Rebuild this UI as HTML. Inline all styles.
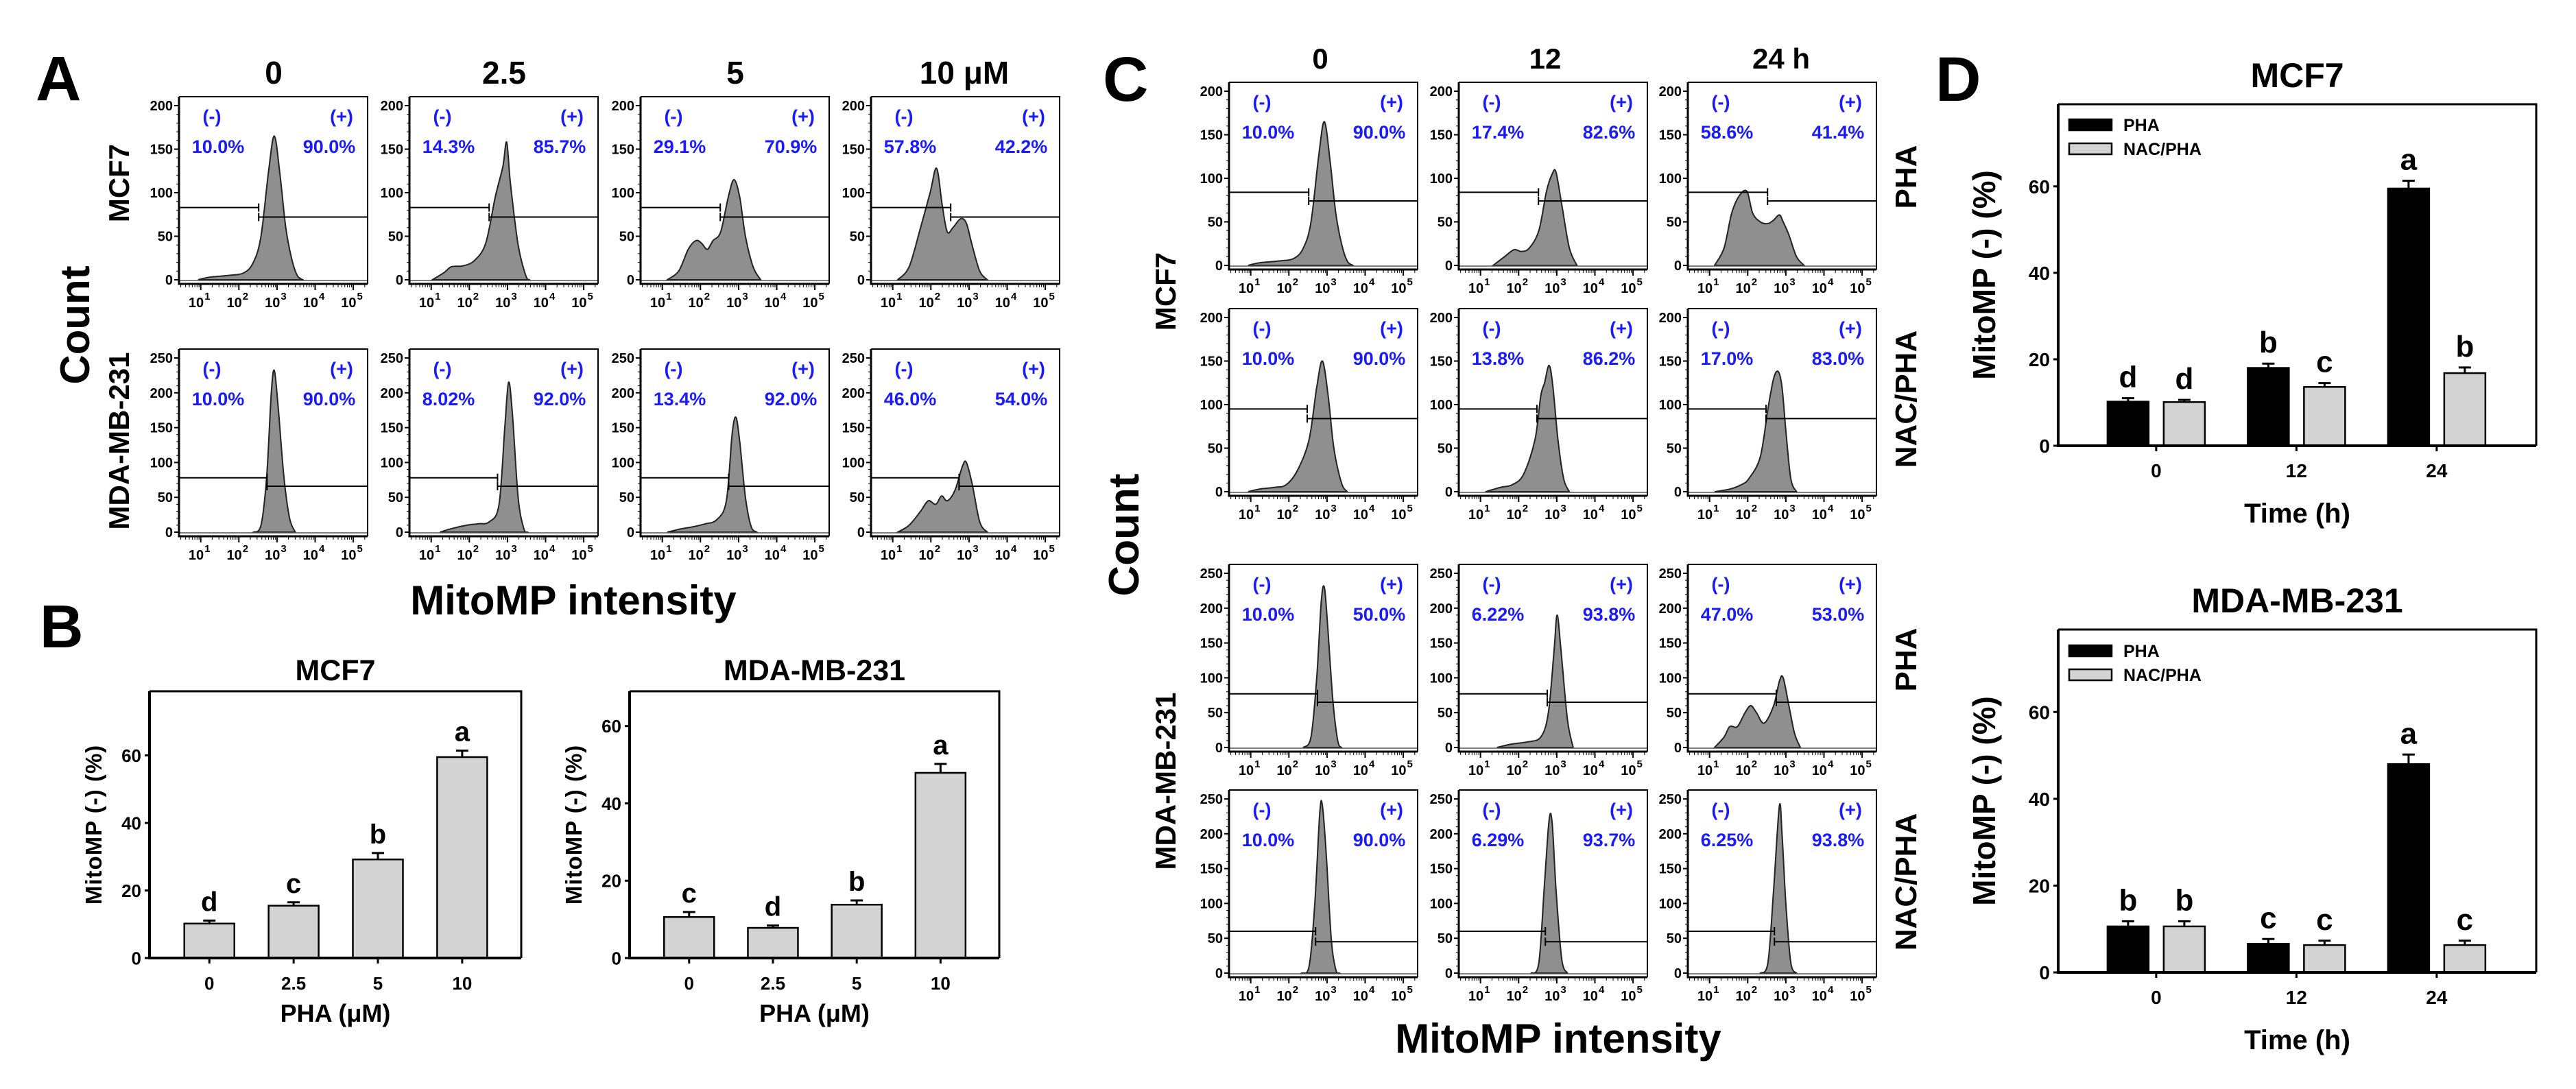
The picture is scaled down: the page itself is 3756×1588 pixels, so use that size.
<!DOCTYPE html>
<html><head><meta charset="utf-8">
<style>
html,body{margin:0;padding:0;background:#fff;}
svg{display:block;}
text{font-family:"Liberation Sans",sans-serif;font-weight:bold;}
</style></head>
<body>
<svg id="fig" width="3756" height="1588" viewBox="0 0 3756 1588" xmlns="http://www.w3.org/2000/svg">
<rect x="0" y="0" width="3756" height="1588" fill="#fff"/>
<text x="52" y="146" font-size="92">A</text>
<text x="58" y="944" font-size="88">B</text>
<text x="1608" y="147" font-size="92">C</text>
<text x="2822" y="147" font-size="92">D</text>
<g font-size="46" text-anchor="middle">
<text x="399" y="122">0</text>
<text x="735" y="122">2.5</text>
<text x="1072" y="122">5</text>
<text x="1406" y="122">10 μM</text>
</g>
<text transform="translate(130,474) rotate(-90)" font-size="60" text-anchor="middle">Count</text>
<text transform="translate(188,267) rotate(-90)" font-size="42" text-anchor="middle">MCF7</text>
<text transform="translate(188,643) rotate(-90)" font-size="42" text-anchor="middle">MDA-MB-231</text>
<text x="836" y="896" font-size="60" text-anchor="middle">MitoMP intensity</text>
<g font-size="42" text-anchor="middle">
<text x="1925" y="100">0</text>
<text x="2253" y="100">12</text>
<text x="2597" y="100">24 h</text>
</g>
<text transform="translate(1660,780) rotate(-90)" font-size="62" text-anchor="middle">Count</text>
<text transform="translate(1714,425) rotate(-90)" font-size="42" text-anchor="middle">MCF7</text>
<text transform="translate(1714,1139) rotate(-90)" font-size="42" text-anchor="middle">MDA-MB-231</text>
<text x="2272" y="1535" font-size="60" text-anchor="middle">MitoMP intensity</text>
<g font-size="44" text-anchor="middle">
<text transform="translate(2794,258) rotate(-90)">PHA</text>
<text transform="translate(2794,582) rotate(-90)">NAC/PHA</text>
<text transform="translate(2794,962) rotate(-90)">PHA</text>
<text transform="translate(2794,1286) rotate(-90)">NAC/PHA</text>
</g>
</svg>
<script>
// ---------- flow cytometry histogram data: [log10 intensity, count] ----------
const histA_mcf7_0   = [[1.0,0],[1.3,3],[1.8,5],[2.2,8],[2.45,20],[2.65,50],[2.85,125],[3.0,165],[3.15,120],[3.3,60],[3.45,25],[3.6,5],[3.75,0]];
const histA_mcf7_25  = [[1.1,0],[1.4,8],[1.6,15],[1.9,16],[2.2,22],[2.5,42],[2.75,95],[2.95,130],[3.05,158],[3.15,110],[3.35,40],[3.55,5],[3.65,0]];
const histA_mcf7_5   = [[1.2,0],[1.5,10],[1.75,35],[1.95,45],[2.1,42],[2.25,35],[2.4,45],[2.6,55],[2.8,95],[2.95,115],[3.1,95],[3.25,50],[3.45,15],[3.65,0]];
const histA_mcf7_10  = [[1.2,0],[1.5,15],[1.8,60],[2.05,100],[2.22,128],[2.37,85],[2.5,55],[2.65,60],[2.85,70],[3.0,65],[3.15,40],[3.35,10],[3.55,0]];
const histA_mda_0    = [[2.45,0],[2.65,10],[2.8,80],[2.92,200],[3.0,232],[3.1,180],[3.25,80],[3.4,20],[3.55,0]];
const histA_mda_25   = [[1.3,0],[1.6,5],[2.0,10],[2.3,12],[2.6,15],[2.85,40],[3.0,150],[3.1,215],[3.2,170],[3.35,50],[3.5,5],[3.6,0]];
const histA_mda_5    = [[1.2,0],[1.5,4],[1.9,8],[2.2,12],[2.5,18],[2.75,45],[2.9,140],[3.0,165],[3.1,130],[3.25,50],[3.4,8],[3.55,0]];
const histA_mda_10   = [[1.2,0],[1.5,10],[1.8,30],[2.0,45],[2.2,40],[2.35,52],[2.5,45],[2.7,60],[2.9,95],[3.0,100],[3.15,70],[3.35,15],[3.55,0]];
const histC_mcf7_pha_0  = [[1.0,0],[1.3,3],[1.8,5],[2.2,8],[2.45,20],[2.65,50],[2.85,125],[3.0,165],[3.15,120],[3.3,60],[3.45,25],[3.6,5],[3.75,0]];
const histC_mcf7_pha_12 = [[1.4,0],[1.7,10],[1.95,18],[2.15,16],[2.35,20],[2.6,40],[2.8,85],[2.95,105],[3.05,107],[3.2,70],[3.4,20],[3.6,0]];
const histC_mcf7_pha_24 = [[1.2,0],[1.45,20],[1.65,60],[1.85,80],[2.05,85],[2.2,60],[2.4,50],[2.6,48],[2.75,52],[2.9,58],[3.0,50],[3.15,35],[3.35,10],[3.55,0]];
const histC_mcf7_nac_0  = [[1.0,0],[1.3,3],[1.7,5],[2.0,8],[2.3,25],[2.6,60],[2.8,120],[2.95,150],[3.1,110],[3.25,50],[3.45,10],[3.6,0]];
const histC_mcf7_nac_12 = [[1.2,0],[1.6,5],[1.9,8],[2.2,20],[2.5,60],[2.65,110],[2.75,125],[2.87,145],[2.97,120],[3.1,60],[3.25,15],[3.4,0]];
const histC_mcf7_nac_24 = [[1.2,0],[1.6,3],[1.9,8],[2.1,15],[2.4,40],[2.6,95],[2.75,130],[2.87,138],[2.97,120],[3.07,70],[3.2,15],[3.35,0]];
const histC_mda_pha_0   = [[2.45,0],[2.65,15],[2.8,100],[2.92,210],[3.0,230],[3.08,180],[3.22,70],[3.35,10],[3.45,0]];
const histC_mda_pha_12  = [[1.5,0],[1.9,5],[2.3,8],[2.65,15],[2.85,50],[3.0,140],[3.08,190],[3.18,140],[3.35,40],[3.5,0]];
const histC_mda_pha_24  = [[1.2,0],[1.45,15],[1.6,30],[1.8,30],[2.0,50],[2.15,60],[2.3,50],[2.5,35],[2.75,60],[2.9,95],[3.0,100],[3.15,60],[3.3,20],[3.45,0]];
const histC_mda_nac_0   = [[2.4,0],[2.6,10],[2.75,100],[2.88,230],[2.95,240],[3.05,170],[3.18,50],[3.3,5],[3.4,0]];
const histC_mda_nac_12  = [[2.4,0],[2.6,15],[2.75,130],[2.87,220],[2.95,215],[3.05,120],[3.2,20],[3.35,0]];
const histC_mda_nac_24  = [[2.4,0],[2.6,15],[2.75,120],[2.9,240],[2.97,200],[3.07,100],[3.2,15],[3.35,0]];
const gateLabelsA_mcf7 = [["10.0%","90.0%"],["14.3%","85.7%"],["29.1%","70.9%"],["57.8%","42.2%"]];
const gateLabelsA_mda  = [["10.0%","90.0%"],["8.02%","92.0%"],["13.4%","92.0%"],["46.0%","54.0%"]];
const gateLabelsC_mcf7_pha = [["10.0%","90.0%"],["17.4%","82.6%"],["58.6%","41.4%"]];
const gateLabelsC_mcf7_nac = [["10.0%","90.0%"],["13.8%","86.2%"],["17.0%","83.0%"]];
const gateLabelsC_mda_pha  = [["10.0%","50.0%"],["6.22%","93.8%"],["47.0%","53.0%"]];
const gateLabelsC_mda_nac  = [["10.0%","90.0%"],["6.29%","93.7%"],["6.25%","93.8%"]];
const ticks200 = [0,50,100,150,200];
const ticks250 = [0,50,100,150,200,250];
const decadeLabels = [1,2,3,4,5];

// ---------- bar chart data ----------
const bDoses = ["0","2.5","5","10"];
const bMcf7Values = [10.2,15.5,29.2,59.5];
const bMcf7Errors = [0.9,1.0,1.9,1.9];
const bMcf7Letters = ["d","c","b","a"];
const bMdaValues = [10.6,7.8,13.8,47.9];
const bMdaErrors = [1.3,0.6,1.1,2.3];
const bMdaLetters = ["c","d","b","a"];
const bTicks = [0,20,40,60];
const dTimes = ["0","12","24"];
const dMcf7Pha = [10.2,18.0,59.5];
const dMcf7PhaErr = [0.8,1.0,1.8];
const dMcf7Nac = [10.1,13.6,16.8];
const dMcf7NacErr = [0.5,0.9,1.3];
const dMcf7PhaLetters = ["d","b","a"];
const dMcf7NacLetters = ["d","c","b"];
const dMdaPha = [10.6,6.6,48.0];
const dMdaPhaErr = [1.2,1.1,2.2];
const dMdaNac = [10.6,6.3,6.3];
const dMdaNacErr = [1.2,1.0,1.0];
const dMdaPhaLetters = ["b","c","a"];
const dMdaNacLetters = ["b","c","c"];
const dTicks = [0,20,40,60];

const NS = "http://www.w3.org/2000/svg";
const svg = document.getElementById('fig');
function mk(tag, attrs, parent){
  const e = document.createElementNS(NS, tag);
  for (const k in attrs) e.setAttribute(k, attrs[k]);
  (parent||svg).appendChild(e);
  return e;
}
function smoothPath(pts){
  let d = "M"+pts[0][0]+","+pts[0][1];
  for (let i=0;i<pts.length-1;i++){
    const p0=pts[Math.max(0,i-1)], p1=pts[i], p2=pts[i+1], p3=pts[Math.min(pts.length-1,i+2)];
    const c1x=p1[0]+(p2[0]-p0[0])/6, c1y=p1[1]+(p2[1]-p0[1])/6;
    const c2x=p2[0]-(p3[0]-p1[0])/6, c2y=p2[1]-(p3[1]-p1[1])/6;
    d += " C"+c1x+","+c1y+" "+c2x+","+c2y+" "+p2[0]+","+p2[1];
  }
  return d;
}

const W = 275, H = 273, LOG0 = 0.43, DEC = 55.6, HSHIFT = 0.07;
function flow(x0, T, ymax, ticks, pts, gate, gL, gR, labels, name){
  const g = mk('g', {});
  
  
  const B = T + H, zero = B - 6, ytop = T + 13;
  const ys = c => zero - c*(zero-ytop)/ymax;
  const xs = l => x0 + (l-LOG0)*DEC;
  const sp = pts.map(p => [xs(p[0]-HSHIFT), ys(p[1])]);
  const d = smoothPath(sp) + " L"+sp[sp.length-1][0]+","+zero+" L"+sp[0][0]+","+zero+" Z";
  const hp = mk('path', {d:d, fill:'#8f8f8f', stroke:'#222', 'stroke-width':2}, g);
  
  
  const bl = mk('line', {x1:x0, x2:x0+W, y1:zero+1, y2:zero+1, stroke:'#555', 'stroke-width':1.5}, g);
  
  
  const fr = mk('path', {d:`M${x0},${T} L${x0+W},${T} L${x0+W},${B}`, fill:'none', stroke:'#000', 'stroke-width':2}, g);
  
  
  const ax = mk('path', {d:`M${x0},${T} L${x0},${B} L${x0+W},${B}`, fill:'none', stroke:'#000', 'stroke-width':3}, g);
  
  
  ticks.forEach(t => {
    const y = ys(t);
    const tl = mk('line', {x1:x0-7, x2:x0, y1:y, y2:y, stroke:'#000', 'stroke-width':2}, g);
    
    
    const tx = mk('text', {x:x0-9, y:y+7, 'font-size':20, 'text-anchor':'end'}, g);
    
    
    tx.textContent = t;
  });
  for (let v=10; v<ymax; v+=10){
    if (v%50===0) continue;
    const y = ys(v);
    const m = mk('line', {x1:x0-4, x2:x0, y1:y, y2:y, stroke:'#000', 'stroke-width':1}, g);
    
    
  }
  for (let dd=0; dd<=5; dd++){
    for (let k=1;k<=9;k++){
      const l = dd + Math.log10(k);
      if (l < LOG0 || xs(l) > x0+W) continue;
      const len = k===1 ? 9 : 5;
      const t = mk('line', {x1:xs(l), x2:xs(l), y1:B, y2:B+len, stroke:'#000', 'stroke-width':k===1?2:1}, g);
      
      
    }
  }
  decadeLabels.forEach(dd => {
    const tx = mk('text', {x:xs(dd)-2, y:B+34, 'font-size':20, 'text-anchor':'middle'}, g);
    
    
    tx.textContent = "10";
    const sup = mk('tspan', {dx:1, dy:-11, 'font-size':15}, tx);
    
    
    sup.textContent = dd;
  });
  const gx = xs(gate), yl = ys(gL), yr = ys(gR);
  const g1 = mk('path', {d:`M${x0},${yl} L${gx},${yl} M${gx},${yl-6} L${gx},${yl+6}`, stroke:'#000', 'stroke-width':2, fill:'none'}, g);
  
  
  const g2 = mk('path', {d:`M${gx},${yr} L${x0+W},${yr} M${gx},${yr-6} L${gx},${yr+6}`, stroke:'#000', 'stroke-width':2, fill:'none'}, g);
  
  
  const neg = mk('text', {x:x0+48, y:T+38, 'font-size':27, fill:'#1a1aff', 'text-anchor':'middle'}, g);
  
  
  neg.textContent = "(-)";
  const pos = mk('text', {x:x0+W-38, y:T+38, 'font-size':27, fill:'#1a1aff', 'text-anchor':'middle'}, g);
  
  
  pos.textContent = "(+)";
  const np = mk('text', {x:x0+57, y:T+82, 'font-size':27, fill:'#1a1aff', 'text-anchor':'middle'}, g);
  
  
  np.textContent = labels[0];
  const pp = mk('text', {x:x0+W-56, y:T+82, 'font-size':27, fill:'#1a1aff', 'text-anchor':'middle'}, g);
  
  
  pp.textContent = labels[1];
}

const aCols = [261, 597, 934, 1270];
const aRow1 = [histA_mcf7_0, histA_mcf7_25, histA_mcf7_5, histA_mcf7_10];
const aRow2 = [histA_mda_0, histA_mda_25, histA_mda_5, histA_mda_10];
for (let i=0;i<4;i++){
  flow(aCols[i], 141, 200, ticks200, aRow1[i], 2.52, 83, 72, gateLabelsA_mcf7[i], 'a-mcf7-histogram-'+i);
  flow(aCols[i], 509, 250, ticks250, aRow2[i], 2.74, 78, 66, gateLabelsA_mda[i], 'a-mda-histogram-'+i);
}
const cCols = [1792, 2127, 2461];
const cR1 = [histC_mcf7_pha_0, histC_mcf7_pha_12, histC_mcf7_pha_24];
const cR2 = [histC_mcf7_nac_0, histC_mcf7_nac_12, histC_mcf7_nac_24];
const cR3 = [histC_mda_pha_0, histC_mda_pha_12, histC_mda_pha_24];
const cR4 = [histC_mda_nac_0, histC_mda_nac_12, histC_mda_nac_24];
for (let i=0;i<3;i++){
  flow(cCols[i], 120, 200, ticks200, cR1[i], 2.52, 84, 74, gateLabelsC_mcf7_pha[i], 'c-mcf7-pha-histogram-'+i);
  flow(cCols[i], 450, 200, ticks200, cR2[i], 2.48, 95, 84, gateLabelsC_mcf7_nac[i], 'c-mcf7-nac-histogram-'+i);
  flow(cCols[i], 823, 250, ticks250, cR3[i], 2.75, 77, 65, gateLabelsC_mda_pha[i], 'c-mda-pha-histogram-'+i);
  flow(cCols[i], 1152, 250, ticks250, cR4[i], 2.7, 60, 45, gateLabelsC_mda_nac[i], 'c-mda-nac-histogram-'+i);
}

function barChart(o){
  const g = mk('g', {});
  
  
  const ys = v => o.B - v*(o.B-o.T)/o.ymax;
  const W2 = o.x1 - o.x0;
  const cx = i => o.x0 + W2*(o.pad + i*o.step);
  const fr = mk('path', {d:`M${o.x0},${o.T} L${o.x1},${o.T} L${o.x1},${o.B}`, fill:'none', stroke:'#000', 'stroke-width':3}, g);
  
  
  o.series.forEach((s, si) => {
    s.values.forEach((v, i) => {
      const xc = cx(i) + s.offset;
      const y = ys(v);
      const r = mk('rect', {x:xc-o.bw/2, y:y, width:o.bw, height:o.B-y, fill:s.fill, stroke:'#000', 'stroke-width':2.5}, g);
      
      
      const ye = ys(v + s.errors[i]);
      const e = mk('path', {d:`M${xc},${y} L${xc},${ye} M${xc-9},${ye} L${xc+9},${ye}`, stroke:'#000', 'stroke-width':3, fill:'none'}, g);
      
      
      const t = mk('text', {x:xc, y:ye-o.letterGap, 'font-size':o.letterSize, 'text-anchor':'middle'}, g);
      
      
      t.textContent = s.letters[i];
    });
  });
  const ax = mk('path', {d:`M${o.x0},${o.T} L${o.x0},${o.B} L${o.x1},${o.B}`, fill:'none', stroke:'#000', 'stroke-width':4}, g);
  
  
  o.ticks.forEach(t => {
    const y = ys(t);
    const tl = mk('line', {x1:o.x0-7, x2:o.x0, y1:y, y2:y, stroke:'#000', 'stroke-width':3}, g);
    
    
    const tx = mk('text', {x:o.x0-12, y:y+o.tickSize*0.36, 'font-size':o.tickSize, 'text-anchor':'end'}, g);
    
    
    tx.textContent = t;
  });
  o.cats.forEach((c, i) => {
    const x = cx(i);
    const tl = mk('line', {x1:x, x2:x, y1:o.B, y2:o.B+8, stroke:'#000', 'stroke-width':3}, g);
    
    
    const tx = mk('text', {x:x, y:o.B+o.tickDy, 'font-size':o.tickSize, 'text-anchor':'middle'}, g);
    
    
    tx.textContent = c;
  });
  const ti = mk('text', {x:(o.x0+o.x1)/2, y:o.titleY, 'font-size':o.titleSize, 'text-anchor':'middle'}, g);
  
  
  ti.textContent = o.title;
  const xl = mk('text', {x:(o.x0+o.x1)/2, y:o.xlabY, 'font-size':o.xlabSize, 'text-anchor':'middle'}, g);
  
  
  xl.textContent = o.xlab;
  const yl = mk('text', {transform:`translate(${o.ylabX},${(o.T+o.B)/2}) rotate(-90)`, 'font-size':o.ylabSize, 'text-anchor':'middle', 'letter-spacing':o.ylabSpacing}, g);
  
  
  yl.textContent = "MitoMP (-) (%)";
  if (o.legend){
    o.series.forEach((s, si) => {
      const ly = o.legendY + si*35;
      const sw = mk('rect', {x:o.x0+16, y:ly-8, width:62, height:16, fill:s.fill, stroke:'#000', 'stroke-width':2.5}, g);
      
      
      const lt = mk('text', {x:o.x0+95, y:ly+9, 'font-size':25}, g);
      
      
      lt.textContent = s.label;
    });
  }
}

const bCommon = {T:1008, B:1397, pad:0.161, step:0.2267, bw:73, ticks:bTicks, cats:bDoses,
  letterSize:40, letterGap:14, tickSize:26, tickDy:46, titleY:992, titleSize:43,
  xlabY:1490, xlabSize:36, ylabSize:33, ylabSpacing:1, legend:false};
barChart(Object.assign({}, bCommon, {name:'b-mcf7-bar-chart', x0:218, x1:760, ymax:79, title:'MCF7', xlab:'PHA (μM)', ylabX:148,
  series:[{key:'pha', values:bMcf7Values, errors:bMcf7Errors, letters:bMcf7Letters, fill:'#d3d3d3', offset:0}]}));
barChart(Object.assign({}, bCommon, {name:'b-mda-bar-chart', x0:918, x1:1457, ymax:69, title:'MDA-MB-231', xlab:'PHA (μM)', ylabX:848,
  series:[{key:'pha', values:bMdaValues, errors:bMdaErrors, letters:bMdaLetters, fill:'#d3d3d3', offset:0}]}));

const dCommon = {x0:3001, x1:3698, ymax:79, pad:0.205, step:0.2934, bw:60, ticks:dTicks, cats:dTimes,
  letterSize:44, letterGap:16, tickSize:28, tickDy:46, titleSize:50, xlabSize:40, xlab:'Time (h)',
  ylabX:2909, ylabSize:46, ylabSpacing:0, legend:true};
barChart(Object.assign({}, dCommon, {name:'d-mcf7-bar-chart', T:152, B:650, title:'MCF7', titleY:127, xlabY:762, legendY:182,
  series:[{key:'pha', label:'PHA', values:dMcf7Pha, errors:dMcf7PhaErr, letters:dMcf7PhaLetters, fill:'#000', offset:-41},
          {key:'nac-pha', label:'NAC/PHA', values:dMcf7Nac, errors:dMcf7NacErr, letters:dMcf7NacLetters, fill:'#d3d3d3', offset:41}]}));
barChart(Object.assign({}, dCommon, {name:'d-mda-bar-chart', T:918, B:1418, title:'MDA-MB-231', titleY:893, xlabY:1530, legendY:949,
  series:[{key:'pha', label:'PHA', values:dMdaPha, errors:dMdaPhaErr, letters:dMdaPhaLetters, fill:'#000', offset:-41},
          {key:'nac-pha', label:'NAC/PHA', values:dMdaNac, errors:dMdaNacErr, letters:dMdaNacLetters, fill:'#d3d3d3', offset:41}]}));
</script>
</body></html>
